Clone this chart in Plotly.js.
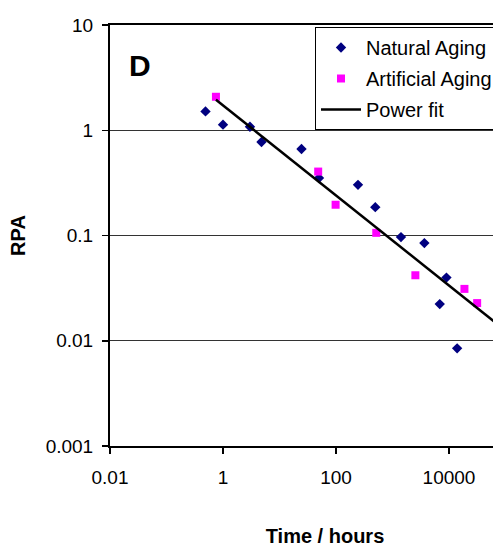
<!DOCTYPE html>
<html>
<head>
<meta charset="utf-8">
<script src="https://cdn.plot.ly/plotly-3.0.1.min.js"></script>
<style>html,body{margin:0;padding:0;background:#fff;overflow:hidden;width:493px;height:547px}</style>
</head>
<body>
<div id="chart" style="width:540px;height:547px"></div>
<script>
// Natural aging (navy diamonds)
const naturalHours = [0.49, 1.0, 3.0, 4.8, 24.5, 50, 245, 496, 1413, 3665, 6860, 9010, 13930];
const naturalRPA   = [1.51, 1.13, 1.08, 0.773, 0.664, 0.352, 0.303, 0.186, 0.0966, 0.0847, 0.0223, 0.0398, 0.00847];
// Artificial aging (magenta squares)
const artificialHours = [0.75, 48.4, 98.4, 516, 2540, 18760, 31500];
const artificialRPA   = [2.08, 0.405, 0.196, 0.106, 0.0419, 0.0311, 0.0228];
// Power fit line endpoints
const fitHours = [0.75, 100000];
const fitRPA   = [1.95, 0.0125];
// Tick labels
const xTickVals = [0.01, 1, 100, 10000];
const xTickText = ['0.01', '1', '100', '10000'];
const yTickVals = [0.001, 0.01, 0.1, 1, 10];
const yTickText = ['0.001', '0.01', '0.1', '1', '10'];

const FONT = 'Liberation Sans, Arial, sans-serif';

const traces = [
  {x: naturalHours, y: naturalRPA, mode: 'markers', type: 'scatter', name: 'Natural Aging',
   legendgroup: 'a',
   marker: {symbol: 'diamond', size: 8, color: '#000080'}},
  {x: artificialHours, y: artificialRPA, mode: 'markers', type: 'scatter', name: 'Artificial Aging',
   legendgroup: 'b',
   marker: {symbol: 'square', size: 8, color: '#FF00FF'}},
  {x: fitHours, y: fitRPA, mode: 'lines', type: 'scatter', name: 'Power fit',
   legendgroup: 'c',
   line: {color: '#000000', width: 2.5}}
];

const W = 540;
const plotW = W - 110;

const layout = {
  width: W, height: 547,
  margin: {l: 110, r: 0, t: 25, b: 101},
  paper_bgcolor: '#ffffff', plot_bgcolor: '#ffffff',
  font: {family: FONT, color: '#000', size: 19},
  showlegend: true,
  legend: {
    x: (315-110)/plotW, xanchor: 'left', y: 1 - 2/421, yanchor: 'top',
    bgcolor: '#ffffff', bordercolor: '#000', borderwidth: 1,
    font: {family: FONT, size: 20, color: '#000'},
    itemwidth: 40, tracegroupgap: 2, traceorder: 'grouped'
  },
  xaxis: {
    type: 'log', range: [-2, -2 + plotW/56.5], automargin: false,
    tickvals: xTickVals, ticktext: xTickText,
    ticks: 'outside', ticklen: 6, tickwidth: 1.5, tickcolor: '#000',
    ticklabelstandoff: 7,
    showline: true, linecolor: '#000', linewidth: 2, mirror: true,
    showgrid: false, zeroline: false,
    tickfont: {family: FONT, size: 19, color: '#000'},
    title: {text: '<b>Time / hours</b>', font: {family: FONT, size: 20, color: '#000'}, standoff: 47}
  },
  yaxis: {
    type: 'log', range: [-3, 1], automargin: false,
    tickvals: yTickVals, ticktext: yTickText,
    ticks: 'outside', ticklen: 6, tickwidth: 1.5, tickcolor: '#000',
    ticklabelstandoff: 5,
    showline: true, linecolor: '#000', linewidth: 2,
    showgrid: true, gridcolor: '#333', gridwidth: 1,
    zeroline: false,
    tickfont: {family: FONT, size: 19, color: '#000'},
    title: {text: '<b>RPA</b>', font: {family: FONT, size: 20, color: '#000'}, standoff: 15}
  },
  annotations: [
    {text: '<b>D</b>', xref: 'paper', yref: 'paper', x: (140-110)/plotW, y: 1-(65-25)/421,
     xanchor: 'center', yanchor: 'middle', showarrow: false,
     font: {family: FONT, size: 30, color: '#000'}}
  ]
};

Plotly.newPlot('chart', traces, layout, {displayModeBar: false, staticPlot: true});
</script>
</body>
</html>
